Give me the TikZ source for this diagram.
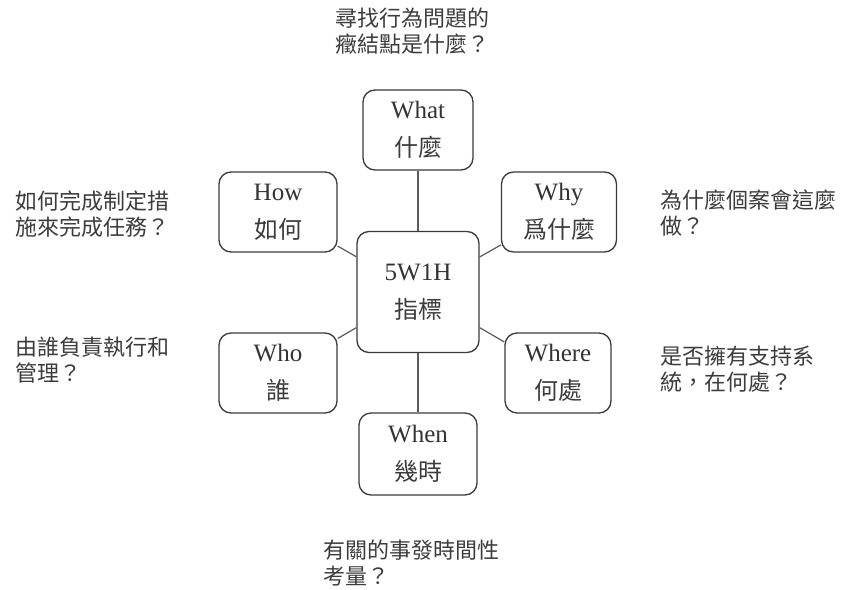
\documentclass[tikz,border=0pt]{standalone}
\usepackage{fontspec}
\setmainfont{Liberation Serif}
\newfontfamily\cjk{Noto Sans CJK TC}
\definecolor{txt}{HTML}{333333}
\definecolor{cjktxt}{HTML}{3C3C3C}
\definecolor{edge}{HTML}{3A3A3A}
\definecolor{conn}{HTML}{5A5A5A}
\tikzset{
  wbox/.style={draw=edge, line width=1.3pt, rounded corners=12pt, align=center,
    text=txt, inner sep=0pt, font=\fontsize{25}{38}\selectfont},
  note/.style={anchor=west, align=left, inner sep=0pt, text=cjktxt,
    font=\cjk\fontsize{22}{26.5}\selectfont},
  link/.style={draw=conn, line width=1.2pt}
}
\newcommand{\cj}[1]{{\cjk\fontsize{24}{38}\selectfont\color{cjktxt}#1}}
\begin{document}
\begin{tikzpicture}[x=1pt,y=-1pt]
\useasboundingbox (0,0) rectangle (842,589);
\node[wbox, minimum width=122pt, minimum height=121pt] (c) at (418,292) {5W1H\\\cj{指標}};
\node[wbox, minimum width=110pt, minimum height=80pt] (what) at (418,130) {What\\\cj{什麼}};
\node[wbox, minimum width=118pt, minimum height=80pt] (how) at (278,212) {How\\\cj{如何}};
\node[wbox, minimum width=115pt, minimum height=80pt] (why) at (559,212) {Why\\\cj{爲什麼}};
\node[wbox, minimum width=118pt, minimum height=80pt] (who) at (278,373) {Who\\\cj{誰}};
\node[wbox, minimum width=106pt, minimum height=80pt] (where) at (558,373) {Where\\\cj{何處}};
\node[wbox, minimum width=118pt, minimum height=82pt] (when) at (418,454) {When\\\cj{幾時}};
\draw[link] (c) -- (what);
\draw[link] (c) -- (how);
\draw[link] (c) -- (why);
\draw[link] (c) -- (who);
\draw[link] (c) -- (where);
\draw[link] (c) -- (when);
\node[note] (nwhat) at (335,31) {尋找行為問題的\\癥結點是什麼？};
\node[note] (nhow) at (15,214) {如何完成制定措\\施來完成任務？};
\node[note] (nwho) at (15,360) {由誰負責執行和\\管理？};
\node[note] (nwhy) at (660,213) {為什麼個案會這麼\\做？};
\node[note] (nwhere) at (660,369) {是否擁有支持系\\統，在何處？};
\node[note] (nwhen) at (323,563) {有關的事發時間性\\考量？};
\end{tikzpicture}
\end{document}
